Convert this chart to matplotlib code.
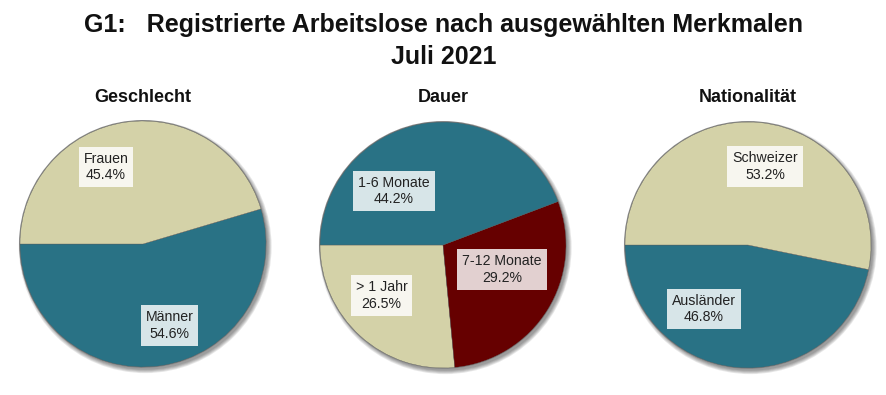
import matplotlib

matplotlib.use("Agg")
import matplotlib.pyplot as plt
from matplotlib.patches import Circle

# Farben
TEAL = "#297285"
BEIGE = "#D4D2A8"
DUNKELROT = "#660000"

plt.rcParams["font.family"] = ["Liberation Sans", "DejaVu Sans"]

# Daten
geschlecht_lab = ["Männer", "Frauen"]
geschlecht_val = [54.6, 45.4]
dauer_lab = ["> 1 Jahr", "7-12 Monate", "1-6 Monate"]
dauer_val = [26.5, 29.2, 44.2]
nation_lab = ["Ausländer", "Schweizer"]
nation_val = [46.8, 53.2]

W, H = 887, 395
R_PX = 123
HALF = 132

fig = plt.figure(figsize=(W / 100, H / 100), dpi=100)
fig.patch.set_facecolor("white")


def pie_ax(cx, cy):
    ax = fig.add_axes([(cx - HALF) / W, (H - cy - HALF) / H, 2 * HALF / W, 2 * HALF / H])
    ax.set_aspect("equal")
    return ax


def draw(cx, cy, title, labels, values, colors, label_pos):
    ax = pie_ax(cx, cy)
    # weicher Schatten, unten rechts kräftiger
    for k in range(5):
        ax.add_patch(Circle((0.018, -0.022), 1.0 + k * 0.007, color="black",
                            alpha=0.09, lw=0, zorder=0))
    ax.add_patch(Circle((0, 0), 1.008, color="#8a8a8a", lw=0, zorder=0.5))
    ax.pie(values, colors=colors, startangle=180, counterclock=True, radius=1.0,
           wedgeprops=dict(edgecolor="#5a5a5a", linewidth=0.25), frame=True)
    ax.axis("off")
    lim = HALF / R_PX
    ax.set_xlim(-lim, lim)
    ax.set_ylim(-lim, lim)
    for lab, val, (x, y) in zip(labels, values, label_pos):
        ax.text(x, y, f"{lab}\n{val:.1f}%", ha="center", va="center",
                fontsize=10.2, color="#222222", linespacing=1.25,
                bbox=dict(boxstyle="square,pad=0.35", facecolor="white",
                          edgecolor="none", alpha=0.82), zorder=5)
    fig.text(cx / W, 1 - 98 / H, title, ha="center", va="center",
             fontsize=13, fontweight="bold", color="#111111")


draw(143, 244, "Geschlecht", geschlecht_lab, geschlecht_val, [TEAL, BEIGE],
     [(0.215, -0.665), (-0.30, 0.625)])
draw(443, 245, "Dauer", dauer_lab, dauer_val, [BEIGE, DUNKELROT, TEAL],
     [(-0.50, -0.41), (0.48, -0.20), (-0.40, 0.44)])
draw(748, 245, "Nationalität", nation_lab, nation_val, [TEAL, BEIGE],
     [(-0.36, -0.52), (0.14, 0.64)])

fig.text(0.5, 1 - 25 / H, "G1:   Registrierte Arbeitslose nach ausgewählten Merkmalen",
         ha="center", va="center", fontsize=18, fontweight="bold", color="#111111")
fig.text(0.5, 1 - 57 / H, "Juli 2021", ha="center", va="center",
         fontsize=18, fontweight="bold", color="#111111")

fig.savefig("out.png", dpi=100, facecolor="white")
